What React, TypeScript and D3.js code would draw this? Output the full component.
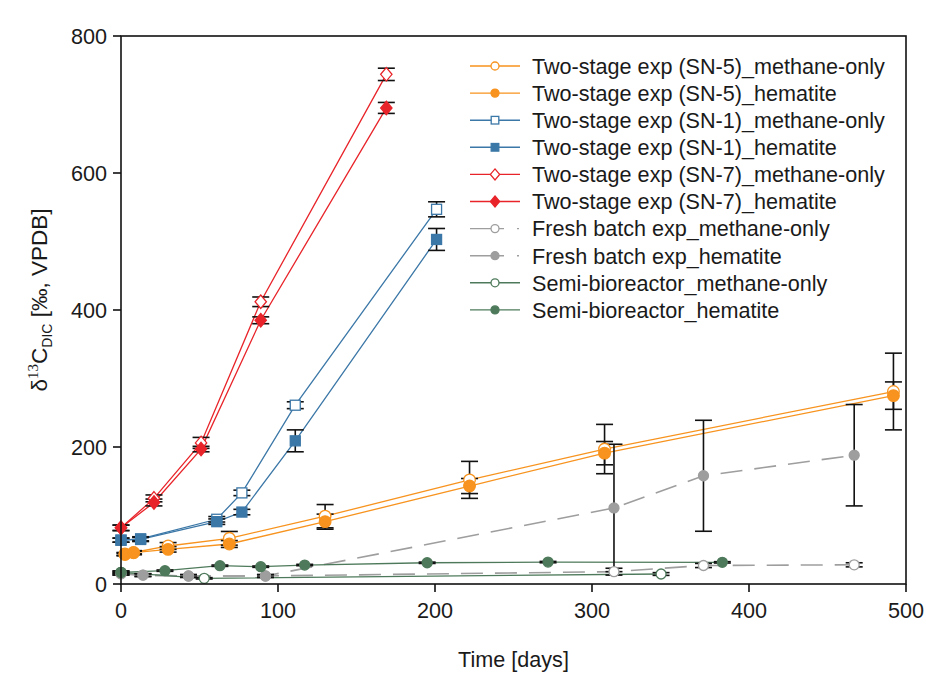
import React from "react";
import * as d3 from "d3";

// two-stage SN-5
const sn5Days = [2.5, 8, 30, 69, 130, 222, 308, 492];
const sn5Methane = [44, 46, 55.5, 66.7, 99, 152, 197, 281];
const sn5MethaneErr = [2, 2, 5, 10, 17, 27, 36, 56];
const sn5Hematite = [43, 45.7, 50.6, 58.4, 91, 143, 191, 275];
const sn5HematiteErr = [2, 3, 4, 5, 11, 11, 17, 20];

// two-stage SN-1
const sn1Days = [0, 12.5, 61, 77, 111, 201];
const sn1Methane = [64, 66, 94.5, 133, 261, 547];
const sn1MethaneErr = [3, 3, 4, 4, 5, 11];
const sn1Hematite = [64, 65, 91, 105, 209, 503];
const sn1HematiteErr = [3, 3, 4, 4, 16, 16];

// two-stage SN-7
const sn7Days = [0, 21, 51, 89, 169];
const sn7Methane = [82, 125, 206, 412, 744];
const sn7MethaneErr = [4, 5, 8, 7, 9];
const sn7Hematite = [82, 119, 197, 385, 695];
const sn7HematiteErr = [4, 5, 4, 5, 8];

// fresh batch
const freshDays = [0, 14, 43, 92, 314, 371, 467];
const freshMethane = [15, 13, 11.7, 11.7, 18, 27, 28];
const freshMethaneErr = [2, 2, 2, 2, 5, 3, 3];
const freshHematite = [15, 13, 11.7, 11.7, 111, 158, 188];
const freshHematiteErr = [2, 2, 2, 2, 93, 81, 74];

// semi-bioreactor
const semiMethaneDays = [0, 53, 344];
const semiMethane = [17, 8.3, 14.6];
const semiMethaneErr = [2, 1, 2];
const semiHematiteDays = [0, 28, 63, 89, 117, 195, 272, 383];
const semiHematite = [17, 19.5, 26.7, 25.3, 27.7, 31, 32, 31.6];
const semiHematiteErr = [2, 1, 1, 1, 1, 1, 1, 1];

const xTicks = [0, 100, 200, 300, 400, 500];
const yTicks = [0, 200, 400, 600, 800];

const ORANGE = "#F7931E";
const BLUE = "#3B77A7";
const RED = "#E8242A";
const GRAY = "#9E9E9E";
const GREEN = "#4E7A5B";

type Shape = "circle" | "square" | "diamond";
type Series = {
  name: string;
  days: number[];
  vals: number[];
  errs: number[];
  color: string;
  shape: Shape;
  open: boolean;
  dash?: string;
  legendDash?: string;
};

const series: Series[] = [
  { name: "Two-stage exp (SN-5)_methane-only", days: sn5Days, vals: sn5Methane, errs: sn5MethaneErr, color: ORANGE, shape: "circle", open: true },
  { name: "Two-stage exp (SN-5)_hematite", days: sn5Days, vals: sn5Hematite, errs: sn5HematiteErr, color: ORANGE, shape: "circle", open: false },
  { name: "Two-stage exp (SN-1)_methane-only", days: sn1Days, vals: sn1Methane, errs: sn1MethaneErr, color: BLUE, shape: "square", open: true },
  { name: "Two-stage exp (SN-1)_hematite", days: sn1Days, vals: sn1Hematite, errs: sn1HematiteErr, color: BLUE, shape: "square", open: false },
  { name: "Two-stage exp (SN-7)_methane-only", days: sn7Days, vals: sn7Methane, errs: sn7MethaneErr, color: RED, shape: "diamond", open: true },
  { name: "Two-stage exp (SN-7)_hematite", days: sn7Days, vals: sn7Hematite, errs: sn7HematiteErr, color: RED, shape: "diamond", open: false },
  { name: "Fresh batch exp_methane-only", days: freshDays, vals: freshMethane, errs: freshMethaneErr, color: GRAY, shape: "circle", open: true, dash: "22,12", legendDash: "34,13,2,20" },
  { name: "Fresh batch exp_hematite", days: freshDays, vals: freshHematite, errs: freshHematiteErr, color: GRAY, shape: "circle", open: false, dash: "22,12", legendDash: "34,13,2,20" },
  { name: "Semi-bioreactor_methane-only", days: semiMethaneDays, vals: semiMethane, errs: semiMethaneErr, color: GREEN, shape: "circle", open: true },
  { name: "Semi-bioreactor_hematite", days: semiHematiteDays, vals: semiHematite, errs: semiHematiteErr, color: GREEN, shape: "circle", open: false },
];

const W = 926;
const H = 676;
const left = 121, right = 906, top = 36, bottom = 584;
const FONT = "'Liberation Sans', Arial, sans-serif";
const FS = 21.6;

const x = d3.scaleLinear().domain([0, 500]).range([left, right]);
const y = d3.scaleLinear().domain([0, 800]).range([bottom, top]);

function Marker({ cx, cy, s, size }: { cx: number; cy: number; s: Series; size: number }) {
  const fill = s.open ? "#fff" : s.color;
  if (s.shape === "square") {
    return <rect x={cx - size} y={cy - size} width={size * 2} height={size * 2} fill={fill} stroke={s.color} strokeWidth={1.3} />;
  }
  if (s.shape === "diamond") {
    const h = size * 1.25;
    const w = size * 1.05;
    return (
      <path d={`M${cx},${cy - h}L${cx + w},${cy}L${cx},${cy + h}L${cx - w},${cy}Z`} fill={fill} stroke={s.color} strokeWidth={1.3} />
    );
  }
  return <circle cx={cx} cy={cy} r={size} fill={fill} stroke={s.color} strokeWidth={1.3} />;
}

export default function App() {
  const line = d3
    .line<[number, number]>()
    .x((d) => x(d[0]))
    .y((d) => y(d[1]));

  return (
    <svg width={W} height={H} style={{ position: "absolute", left: 0, top: 0, background: "#fff" }} fontFamily={FONT}>
      <rect x={0} y={0} width={W} height={H} fill="#fff" />

      {/* series lines */}
      {series.map((s) => (
        <path
          key={s.name + "-line"}
          d={line(s.days.map((d, i) => [d, s.vals[i]] as [number, number])) || ""}
          fill="none"
          stroke={s.color}
          strokeWidth={s.dash ? 1.6 : 1.3}
          strokeDasharray={s.dash}
        />
      ))}

      {/* error bars */}
      {series.map((s) =>
        s.days.map((d, i) => {
          const cx = x(d);
          const y1 = y(s.vals[i] + s.errs[i]);
          const y2 = y(s.vals[i] - s.errs[i]);
          return (
            <g key={s.name + "-err-" + i} stroke="#111" strokeWidth={1.6}>
              <line x1={cx} x2={cx} y1={y1} y2={y2} />
              <line x1={cx - 8.5} x2={cx + 8.5} y1={y1} y2={y1} />
              <line x1={cx - 8.5} x2={cx + 8.5} y1={y2} y2={y2} />
            </g>
          );
        })
      )}

      {/* markers */}
      {series.map((s) =>
        s.days.map((d, i) => (
          <Marker key={s.name + "-m-" + i} cx={x(d)} cy={y(s.vals[i])} s={s} size={s.shape === "square" ? 5 : s.shape === "diamond" ? 5.4 : s.color === GREEN || s.color === GRAY ? 5 : 5.8} />
        ))
      )}

      {/* frame and axes */}
      <rect x={left} y={top} width={right - left} height={bottom - top} fill="none" stroke="#111" strokeWidth={1.6} />
      {yTicks.map((t) => (
        <g key={"yt" + t}>
          <line x1={left - 8} x2={left} y1={y(t)} y2={y(t)} stroke="#111" strokeWidth={1.6} />
          <text x={left - 14} y={y(t) + 7.5} textAnchor="end" fontSize={FS} fill="#1a1a1a">
            {t}
          </text>
        </g>
      ))}
      {xTicks.map((t) => (
        <g key={"xt" + t}>
          <line x1={x(t)} x2={x(t)} y1={bottom} y2={bottom + 8} stroke="#111" strokeWidth={1.6} />
          <text x={x(t)} y={bottom + 34} textAnchor="middle" fontSize={FS} fill="#1a1a1a">
            {t}
          </text>
        </g>
      ))}

      <text x={(left + right) / 2} y={667} textAnchor="middle" fontSize={FS} fill="#1a1a1a">
        Time [days]
      </text>

      <text transform={`translate(47,${300}) rotate(-90)`} textAnchor="middle" fontSize={22.5} fill="#1a1a1a">
        <tspan>δ</tspan>
        <tspan dy={-9} fontSize={15} fontFamily="'Liberation Serif', 'Times New Roman', serif">13</tspan>
        <tspan dy={9}>C</tspan>
        <tspan dy={5} fontSize={14}>DIC</tspan>
        <tspan dy={-5}> [‰, VPDB]</tspan>
      </text>

      {/* legend */}
      {series.map((s, i) => {
        const ly = 66 + i * 27.1;
        return (
          <g key={s.name + "-leg"}>
            <line x1={470} x2={520} y1={ly} y2={ly} stroke={s.color} strokeWidth={1.4} strokeDasharray={s.legendDash} />
            <Marker cx={495} cy={ly} s={s} size={s.shape === "square" ? 3.8 : s.shape === "diamond" ? 4.4 : 4} />
            <text x={532} y={ly + 7.8} fontSize={FS} fill="#1a1a1a">
              {s.name}
            </text>
          </g>
        );
      })}
    </svg>
  );
}
